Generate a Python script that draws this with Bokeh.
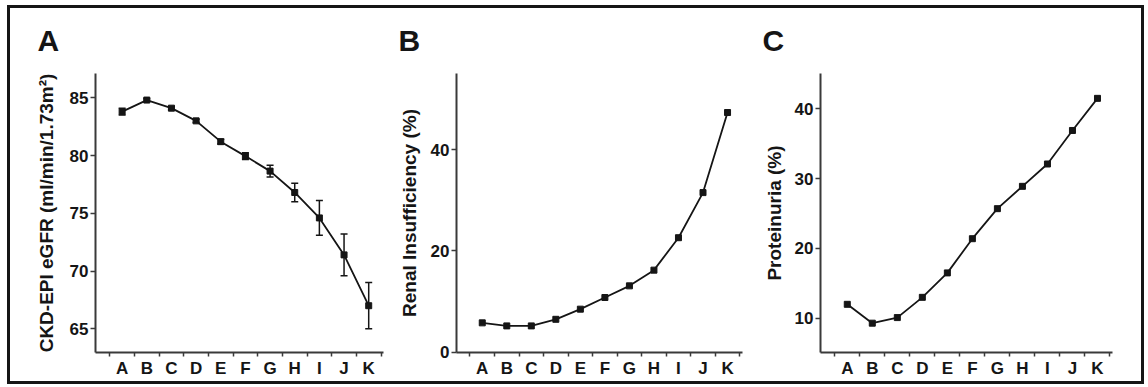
from bokeh.plotting import figure
from bokeh.layouts import row
from bokeh.models import FixedTicker, Range1d, Whisker, ColumnDataSource, TeeHead, Title
from bokeh.embed import file_html
from bokeh.resources import INLINE

categories = ["A", "B", "C", "D", "E", "F", "G", "H", "I", "J", "K"]
egfr_mean = [83.8, 84.8, 84.1, 83.0, 81.2, 79.95, 78.65, 76.8, 74.6, 71.4, 67.0]
egfr_err = [0.3, 0.12, 0.15, 0.15, 0.2, 0.3, 0.5, 0.8, 1.5, 1.8, 2.0]
renal_pct = [5.8, 5.2, 5.2, 6.5, 8.5, 10.8, 13.1, 16.2, 22.6, 31.5, 47.3]
protein_pct = [12.0, 9.3, 10.1, 13.0, 16.5, 21.4, 25.7, 28.9, 32.1, 36.9, 41.5]

egfr_ticks = [65, 70, 75, 80, 85]
renal_ticks = [0, 20, 40]
protein_ticks = [10, 20, 30, 40]

FONT = "Liberation Sans"
INK = "#151515"
AXIS = "#3a3a3a"
FRAME_H = 279
TOP = 68
BOTTOM = 32


def panel(letter, ylabel, values, y0, y1, yticks, x0, x1, frame_w, lb, rb,
          label_standoff, err=None):
    idx = list(range(len(categories)))
    p = figure(frame_width=frame_w, frame_height=FRAME_H,
               x_range=Range1d(x0, x1), y_range=Range1d(y0, y1),
               output_backend="svg", toolbar_location=None,
               min_border_left=lb, min_border_right=rb,
               min_border_top=TOP, min_border_bottom=BOTTOM)
    p.outline_line_color = None
    p.xgrid.grid_line_color = None
    p.ygrid.grid_line_color = None
    p.background_fill_color = None
    p.border_fill_color = None

    p.xaxis.ticker = FixedTicker(ticks=idx,
                                 minor_ticks=[i - 0.5 for i in range(len(categories) + 1)])
    p.xaxis.major_label_overrides = {i: c for i, c in enumerate(categories)}
    p.xaxis.major_tick_out = 0
    p.xaxis.major_tick_in = 0
    p.xaxis.minor_tick_out = 4
    p.xaxis.minor_tick_in = 0
    p.xaxis.major_label_standoff = 2

    p.yaxis.ticker = FixedTicker(ticks=yticks, minor_ticks=[])
    p.yaxis.major_tick_out = 5
    p.yaxis.major_tick_in = 0
    p.yaxis.minor_tick_out = 0
    p.yaxis.major_label_standoff = 2
    p.yaxis.axis_label = ylabel
    p.yaxis.axis_label_standoff = label_standoff

    for ax in (p.xaxis, p.yaxis):
        ax.axis_line_color = AXIS
        ax.axis_line_width = 2
        ax.major_tick_line_color = AXIS
        ax.major_tick_line_width = 1.5
        ax.minor_tick_line_color = AXIS
        ax.minor_tick_line_width = 1.5
        ax.major_label_text_font = FONT
        ax.major_label_text_font_style = "bold"
        ax.major_label_text_font_size = "17px"
        ax.major_label_text_color = INK
        ax.axis_label_text_font = FONT
        ax.axis_label_text_font_style = "bold"
        ax.axis_label_text_font_size = "19px"
        ax.axis_label_text_color = INK

    src = ColumnDataSource(dict(x=idx, y=values))
    if err is not None:
        src.data["upper"] = [v + e for v, e in zip(values, err)]
        src.data["lower"] = [v - e for v, e in zip(values, err)]
        w = Whisker(source=src, base="x", upper="upper", lower="lower",
                    line_color=INK, line_width=1.5,
                    upper_head=TeeHead(size=7, line_color=INK, line_width=1.5),
                    lower_head=TeeHead(size=7, line_color=INK, line_width=1.5))
        p.add_layout(w)
    p.line("x", "y", source=src, line_color=INK, line_width=1.8)
    p.scatter("x", "y", source=src, marker="square", size=6,
              fill_color=INK, line_color=INK)

    p.add_layout(Title(text=letter, text_font=FONT, text_font_style="bold",
                       text_font_size="30px", text_color=INK, align="left",
                       vertical_align="top", offset=-58, standoff=30), "above")
    return p


pA = panel("A", "CKD-EPI eGFR (ml/min/1.73m²)", egfr_mean, 62.95, 87.1, egfr_ticks,
           -1.08, 10.6, 288, 88, 5, 10, err=egfr_err)
pB = panel("B", "Renal Insufficiency (%)", renal_pct, -0.05, 55.0, renal_ticks,
           -1.05, 10.61, 286, 68, 5, 8)
pC = panel("C", "Proteinuria (%)", protein_pct, 5.1, 45.06, protein_ticks,
           -1.07, 10.6, 292, 73, 32, 7)

layout = row(pA, pB, pC, spacing=0, margin=(5, 0, 0, 7),
             styles={"outline": "3px solid #161616", "outline-offset": "-3px",
                     "background-color": "white"})

open("out.html", "w").write(file_html(layout, INLINE))
